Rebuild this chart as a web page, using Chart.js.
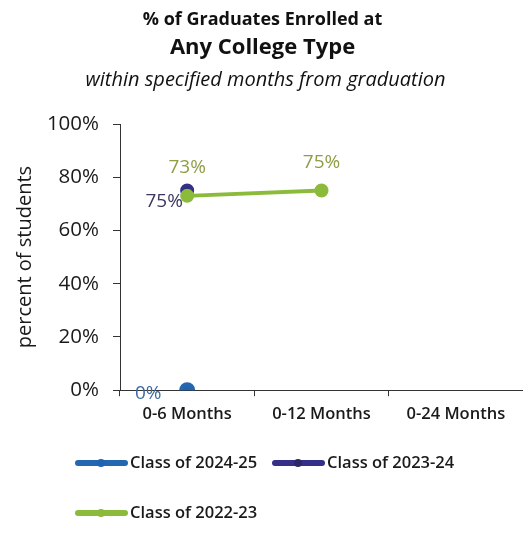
<!DOCTYPE html>
<html>
<head>
<meta charset="utf-8">
<script src="https://cdn.jsdelivr.net/npm/chart.js@4"></script>
<style>
  html, body { margin: 0; padding: 0; background: #fff; }
  #wrap { width: 523px; height: 557px; }
</style>
</head>
<body>
<div id="wrap"><canvas id="myChart" width="523" height="557"></canvas></div>
<script>
const categories = ['0-6 Months', '0-12 Months', '0-24 Months'];
const class2425 = [0, null, null];
const class2324 = [75, null, null];
const class2223 = [73, 75, null];
const seriesNames = ['Class of 2024-25', 'Class of 2023-24', 'Class of 2022-23'];
const titleLines = ['% of Graduates Enrolled at', 'Any College Type', 'within specified months from graduation'];

const FONT = '"Open Sans", sans-serif';

// title block (three lines, different fonts)
const headerPlugin = {
    id: 'header',
    afterDraw(chart) {
        const ctx = chart.ctx;
        const cx = chart.width / 2 + 1;
        ctx.save();
        ctx.fillStyle = '#111';
        ctx.textAlign = 'center';
        ctx.textBaseline = 'middle';
        ctx.font = 'bold 18px ' + FONT;
        ctx.fillText(titleLines[0], cx, 20);
        ctx.font = 'bold 22px ' + FONT;
        ctx.fillText(titleLines[1], cx, 48);
        ctx.font = 'italic 20px ' + FONT;
        ctx.fillText(titleLines[2], cx + 3, 80);
        ctx.restore();
    }
};

// value labels next to the points
const valueLabels = {
    id: 'valueLabels',
    afterDatasetsDraw(chart) {
        const ctx = chart.ctx;
        ctx.save();
        ctx.font = '19px ' + FONT;
        ctx.textAlign = 'center';
        ctx.textBaseline = 'middle';
        chart.data.datasets.forEach(function (ds, i) {
            const meta = chart.getDatasetMeta(i);
            meta.data.forEach(function (pt, j) {
                const v = ds.data[j];
                if (v === null || v === undefined) return;
                ctx.fillStyle = ds.labelColor;
                ctx.fillText(v + '%', pt.x + ds.labelOffset[0], pt.y + ds.labelOffset[1]);
            });
        });
        ctx.restore();
    }
};

// legend: line with marker, two rows
const legendPlugin = {
    id: 'lineLegend',
    afterDraw(chart) {
        const ctx = chart.ctx;
        const slots = [[75, 463], [272, 463], [75, 513]];
        ctx.save();
        chart.data.datasets.forEach(function (ds, i) {
            const x = slots[i][0], y = slots[i][1];
            ctx.strokeStyle = ds.borderColor;
            ctx.lineWidth = 6;
            ctx.lineCap = 'round';
            ctx.beginPath();
            ctx.moveTo(x + 3, y);
            ctx.lineTo(x + 50, y);
            ctx.stroke();
            ctx.fillStyle = ds.backgroundColor;
            ctx.beginPath();
            ctx.arc(x + 26, y, 4, 0, Math.PI * 2);
            ctx.fill();
            ctx.fillStyle = '#1a1a1a';
            ctx.font = '600 16.5px ' + FONT;
            ctx.textAlign = 'left';
            ctx.textBaseline = 'middle';
            ctx.fillText(ds.label, x + 55, y);
        });
        ctx.restore();
    }
};

const data = {
    labels: categories,
    datasets: [
        {
            label: seriesNames[0],
            data: class2425,
            borderColor: '#2566b0',
            backgroundColor: '#1f63b2',
            borderWidth: 4,
            pointRadius: 6,
            labelColor: '#3d6aa6',
            labelOffset: [-39, 3],
            order: 2
        },
        {
            label: seriesNames[1],
            data: class2324,
            borderColor: '#34308a',
            backgroundColor: '#2b2866',
            borderWidth: 4,
            pointRadius: 5,
            labelColor: '#3b3760',
            labelOffset: [-23, 11],
            order: 1
        },
        {
            label: seriesNames[2],
            data: class2223,
            borderColor: '#8cbb3c',
            backgroundColor: '#8cbb3c',
            borderWidth: 4,
            pointRadius: 5,
            labelColor: '#8f9d45',
            labelOffset: [0, -28],
            order: 0
        }
    ]
};

const config = {
    type: 'line',
    data: data,
    options: {
        responsive: false,
        animation: false,
        layout: { autoPadding: false, padding: { top: 124, bottom: 125, left: 5, right: 0 } },
        plugins: {
            legend: { display: false },
            tooltip: { enabled: false },
            title: { display: false }
        },
        scales: {
            x: {
                offset: true,
                afterFit: function (scale) { scale.paddingRight = 0; scale.paddingLeft = 0; },
                grid: {
                    offset: true,
                    drawOnChartArea: false,
                    tickLength: 6,
                    color: '#333'
                },
                border: { color: '#333', width: 1 },
                ticks: {
                    color: '#1a1a1a',
                    font: { family: FONT, size: 16.5, weight: '600' },
                    padding: 8,
                    maxRotation: 0
                }
            },
            y: {
                min: 0,
                max: 100,
                afterFit: function (scale) { scale.width = 115; },
                grid: {
                    drawOnChartArea: false,
                    tickLength: 7,
                    color: '#333'
                },
                border: { color: '#333', width: 1 },
                ticks: {
                    stepSize: 20,
                    color: '#1a1a1a',
                    font: { family: FONT, size: 20.5 },
                    padding: 14,
                    callback: function (v) { return v + '%'; }
                },
                title: {
                    display: true,
                    text: 'percent of students',
                    color: '#1a1a1a',
                    font: { family: FONT, size: 20 },
                    padding: { top: 8, bottom: 4 }
                }
            }
        }
    },
    plugins: [headerPlugin, valueLabels, legendPlugin]
};

const ctx = document.getElementById('myChart').getContext('2d');
new Chart(ctx, config);
</script>
</body>
</html>
